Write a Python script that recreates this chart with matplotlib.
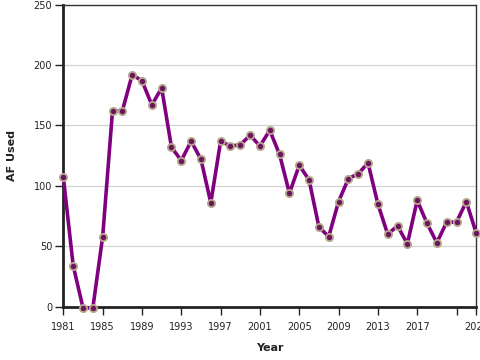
import matplotlib
matplotlib.use("Agg")
import matplotlib.pyplot as plt

years = list(range(1981, 2024))
af_used = [107, 34, -1, -1, 58, 162, 162, 192, 187, 167, 181, 132, 121, 137, 122, 86,
           137, 133, 134, 142, 133, 146, 126, 94, 117, 105, 66, 58, 87, 106, 110, 119,
           85, 60, 67, 52, 88, 69, 53, 70, 70, 87, 61]
x_ticks = list(range(1981, 2022, 4)) + [2023]
x_labels = [str(y) for y in range(1981, 2018, 4)] + ["", "2023"]
y_ticks = [0, 50, 100, 150, 200, 250]

fig = plt.figure(figsize=(4.8, 3.6), dpi=100)
ax = fig.add_axes([0.132, 0.148, 0.860, 0.839])

ax.plot(years, af_used, color="#800080", lw=2.6, zorder=3, clip_on=False)
ax.plot(years, af_used, ls="none", marker="o", ms=5.2, mfc="#6b1460",
        mec="#b5a88a", mew=1.3, zorder=4, clip_on=False)

ax.set_xlim(1981, 2023)
ax.set_ylim(0, 250)
ax.set_xticks(x_ticks)
ax.set_xticklabels(x_labels)
ax.set_yticks(y_ticks)
ax.yaxis.grid(True, color="#d4d4d4", lw=0.9)
ax.set_axisbelow(True)

for side in ("left", "bottom"):
    ax.spines[side].set_linewidth(2.0)
    ax.spines[side].set_color("#222222")
for side in ("top", "right"):
    ax.spines[side].set_linewidth(1.0)
    ax.spines[side].set_color("#333333")

ax.tick_params(labelsize=7, colors="#222222", length=6, width=1)
ax.tick_params(axis="x", pad=5)
ax.tick_params(axis="y", pad=2)
ax.set_xlabel("Year", fontsize=8, fontweight="bold", color="#222222", labelpad=8)
ax.set_ylabel("AF Used", fontsize=8, fontweight="bold", color="#222222", labelpad=12)

fig.savefig("out.png", dpi=100)
